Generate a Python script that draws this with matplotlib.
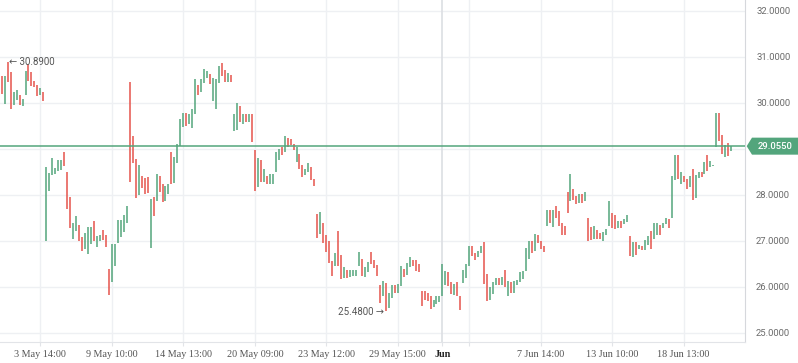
import numpy as np
import matplotlib.pyplot as plt
from matplotlib.transforms import blended_transform_factory
from matplotlib.patches import Polygon

# hourly bars (high / low / up-or-down)
high = [
    30.57, 30.57, 30.89, 30.66, 30.23, 30.27, 30.16, 30.07, 30.68, 30.85, 30.66, 30.48, 30.39, 30.33, 30.24,
    28.60, 28.48, 28.79, 28.58, 28.75, 28.76, 28.93, 28.50, 27.95, 27.38, 27.54, 27.34, 27.07, 27.16, 27.30,
    27.30, 27.43, 27.10, 27.12, 27.23, 27.12, 26.39, 26.92, 26.93, 27.45, 27.45, 27.56, 27.75, 30.46, 29.27,
    28.77, 28.64, 28.40, 28.37, 28.39, 27.90, 27.95, 28.45, 28.41, 28.24, 28.19, 28.23, 28.93, 28.82, 29.10,
    29.64, 29.78, 29.77, 29.76, 29.87, 30.51, 30.38, 30.52, 30.74, 30.68, 30.63, 30.54, 30.52, 30.79, 30.87,
    30.72, 30.64, 30.61, 29.75, 30.00, 29.92, 29.75, 29.75, 29.75, 29.75, 28.97, 28.79, 28.75, 28.55, 28.41,
    28.44, 28.44, 28.92, 29.00, 29.04, 29.27, 29.24, 29.22, 29.11, 29.04, 28.88, 28.64, 28.55, 28.68, 28.60,
    28.35, 27.59, 27.62, 27.38, 27.12, 26.99, 26.56, 26.73, 27.21, 26.69, 26.42, 26.37, 26.37, 26.37, 26.37,
    26.76, 26.60, 26.42, 26.53, 26.75, 26.58, 26.47, 26.03, 26.13, 26.09, 25.86, 26.04, 26.04, 26.06, 26.44,
    26.38, 26.51, 26.64, 26.58, 26.58, 26.50, 25.90, 25.90, 25.86, 25.80, 25.72, 25.80, 25.80, 26.50, 26.34,
    26.33, 26.11, 26.06, 26.11, 25.80, 26.37, 26.49, 26.89, 26.89, 26.74, 26.78, 26.89, 26.98, 26.28, 25.99,
    26.11, 26.20, 26.19, 26.22, 26.37, 26.13, 26.10, 26.13, 26.15, 26.32, 26.34, 26.84, 26.99, 26.99, 27.15,
    27.12, 26.99, 26.89, 27.67, 27.67, 27.67, 27.75, 27.65, 27.38, 27.32, 28.06, 28.45, 28.12, 27.98, 28.01,
    28.01, 28.06, 27.50, 27.29, 27.32, 27.23, 27.16, 27.18, 27.25, 27.86, 27.61, 27.56, 27.43, 27.43, 27.47,
    27.56, 27.11, 26.98, 26.98, 26.91, 26.89, 27.02, 27.10, 27.21, 27.39, 27.38, 27.34, 27.38, 27.50, 27.47,
    28.40, 28.86, 28.86, 28.50, 28.40, 28.35, 28.40, 28.55, 28.42, 28.50, 28.50, 28.71, 28.86, 28.73, 28.64,
    29.78, 29.78, 29.29, 29.07, 29.13, 29.06,
]
low = [
    30.18, 29.98, 30.46, 29.87, 29.96, 30.05, 29.94, 29.93, 30.17, 30.48, 30.36, 30.34, 30.14, 30.16, 30.03,
    26.99, 28.08, 28.42, 28.44, 28.51, 28.53, 28.63, 27.69, 27.28, 27.03, 27.22, 27.00, 26.78, 26.82, 26.70,
    26.92, 26.99, 26.87, 26.99, 27.02, 26.87, 25.81, 26.10, 26.44, 26.94, 27.09, 27.18, 27.38, 28.28, 28.68,
    27.92, 27.99, 28.15, 28.01, 28.03, 26.84, 27.54, 27.87, 28.06, 27.85, 27.87, 28.01, 28.24, 28.26, 28.69,
    29.06, 29.47, 29.49, 29.53, 29.45, 29.75, 30.17, 30.24, 30.43, 30.53, 30.41, 30.03, 29.87, 30.43, 30.58,
    30.46, 30.46, 30.45, 29.38, 29.40, 29.58, 29.53, 29.58, 29.59, 29.15, 28.08, 28.17, 28.27, 28.28, 28.24,
    28.23, 28.23, 28.50, 28.75, 28.86, 28.92, 29.04, 29.07, 28.97, 28.72, 28.55, 28.39, 28.42, 28.50, 28.33,
    28.19, 27.05, 27.14, 26.94, 26.76, 26.51, 26.24, 26.44, 26.46, 26.17, 26.19, 26.20, 26.21, 26.24, 26.24,
    26.46, 26.24, 26.22, 26.33, 26.49, 26.40, 26.24, 25.64, 25.79, 25.48, 25.53, 25.75, 25.86, 25.86, 26.02,
    26.22, 26.26, 26.42, 26.45, 26.35, 26.33, 25.59, 25.72, 25.68, 25.52, 25.55, 25.63, 25.66, 25.80, 26.04,
    26.02, 25.85, 25.82, 25.79, 25.50, 26.09, 26.19, 26.45, 26.67, 26.57, 26.64, 26.74, 26.06, 25.68, 25.72,
    25.85, 26.04, 26.04, 26.04, 26.00, 25.80, 25.86, 25.87, 26.03, 26.11, 26.17, 26.34, 26.60, 26.73, 26.78,
    26.94, 26.82, 26.76, 27.33, 27.38, 27.30, 27.50, 27.33, 27.12, 27.12, 27.61, 27.86, 27.89, 27.80, 27.83,
    27.81, 27.87, 26.99, 27.02, 27.04, 27.04, 27.04, 26.99, 27.12, 27.33, 27.27, 27.25, 27.27, 27.27, 27.36,
    27.40, 26.67, 26.64, 26.69, 26.81, 26.80, 26.80, 26.91, 26.82, 27.03, 27.12, 27.12, 27.28, 27.36, 27.28,
    27.49, 28.32, 28.34, 28.23, 28.28, 28.12, 28.16, 27.88, 27.93, 28.37, 28.39, 28.46, 28.52, 28.61, 28.63,
    29.04, 29.17, 28.88, 28.82, 28.84, 28.94,
]
direction = (
    "d u d d u u d u u d d d d u d "
    "u u u u u u d d d u u d d u u "
    "u d u u d d d u u u u u u d d "
    "d u d d d u d u d d u u d u u "
    "u u d u u u d u u u d u u u d "
    "d u d u u d u d u d d u d u d "
    "u u u u d u d d d u d d u u d "
    "d d u d d d d u d d u d u u u "
    "u d u u d d d d u d u u d u u "
    "d u u d d d d d d d u u u u u "
    "d d u d d u u u d d u u d d u "
    "u u d u d u d u u u u u u d u "
    "d d d u d u d d d d d u d d u "
    "d u d d u d d u u u d d u d u "
    "u d u d u d u u d u u d u u d "
    "u u d u d d u d u u d u d u u "
    "u d d u d u"
).split()

tick_pos = [13, 37, 61, 85, 109, 133, 148, 157, 181, 205, 229]
tick_labels = ["3 May 14:00", "9 May 10:00", "14 May 13:00", "20 May 09:00", "23 May 12:00",
               "29 May 15:00", "Jun", "", "7 Jun 14:00", "13 Jun 10:00", "18 Jun 13:00"]
price_ticks = [25, 26, 27, 28, 29, 30, 31, 32]
last_price = 29.055

green = "#53a57c"
red = "#e5534b"
grid_col = "#eef0f3"

fig = plt.figure(figsize=(7.98, 3.63), dpi=100)
ax = fig.add_axes([0, 21 / 363, 745 / 798, 342 / 363])

for p in price_ticks:
    ax.axhline(p, color=grid_col, lw=1, zorder=0)
for t in tick_pos:
    ax.axvline(t, color="#dcdfe3" if t == 148 else grid_col, lw=1.2 if t == 148 else 1, zorder=0)

x = np.arange(len(high))
cols = [green if d == "u" else red for d in direction]
ax.vlines(x, low, high, colors=cols, lw=1.1, zorder=3)

ax.axhline(last_price, color=green, lw=1.1, zorder=4)

# max / min markers
imax = int(np.argmax(high))
imin = int(np.argmin(low))
ax.annotate("\u2190 %.4f" % high[imax], (imax, high[imax]), xytext=(1.2, -0.3),
            textcoords="offset points", ha="left", va="center", fontsize=7,
            color="#555555", family=["Roboto", "DejaVu Sans"], zorder=5)
ax.annotate("%.4f \u2192" % low[imin], (imin, low[imin]), xytext=(-1.5, -0.8),
            textcoords="offset points", ha="right", va="center", fontsize=7,
            color="#555555", family=["Roboto", "DejaVu Sans"], zorder=5)

ax.set_xlim(-0.57, 249.6)
ax.set_ylim(24.798, 32.232)

ax.set_xticks(tick_pos)
ax.set_xticklabels(tick_labels, family="Liberation Serif", fontsize=7.3, color="#555555")
for lbl in ax.get_xticklabels():
    if lbl.get_text() == "Jun":
        lbl.set_fontweight("bold")
        lbl.set_color("#222222")
ax.tick_params(axis="x", length=3, color="#e2e4e8", pad=3)

# the 29 label sits under the last-price tag, so leave it blank
ax.yaxis.tick_right()
ax.set_yticks(price_ticks)
ax.set_yticklabels(["" if p == 29 else "%.4f" % p for p in price_ticks],
                   family="Roboto", fontsize=6.8, color="#6b6b6b")
ax.tick_params(axis="y", length=0, pad=8)

for s in ["top", "left"]:
    ax.spines[s].set_visible(False)
ax.spines["right"].set_color("#d6d8dc")
ax.spines["bottom"].set_color("#e2e4e8")

# last price tag on the price scale
tr = blended_transform_factory(ax.transAxes, ax.transData)
h = 8.5 / 46.0
tag = Polygon([(746.7 / 745, last_price), (752 / 745, last_price + h), (800 / 745, last_price + h),
               (800 / 745, last_price - h), (752 / 745, last_price - h)],
              closed=True, transform=tr, facecolor=green, edgecolor="none", clip_on=False, zorder=6)
ax.add_patch(tag)
ax.text(775.5 / 745, last_price, "%.4f" % last_price, transform=tr, ha="center", va="center",
        fontsize=6.8, color="white", family="Roboto", fontweight="medium", clip_on=False, zorder=7)

fig.savefig("out.png", dpi=100)
